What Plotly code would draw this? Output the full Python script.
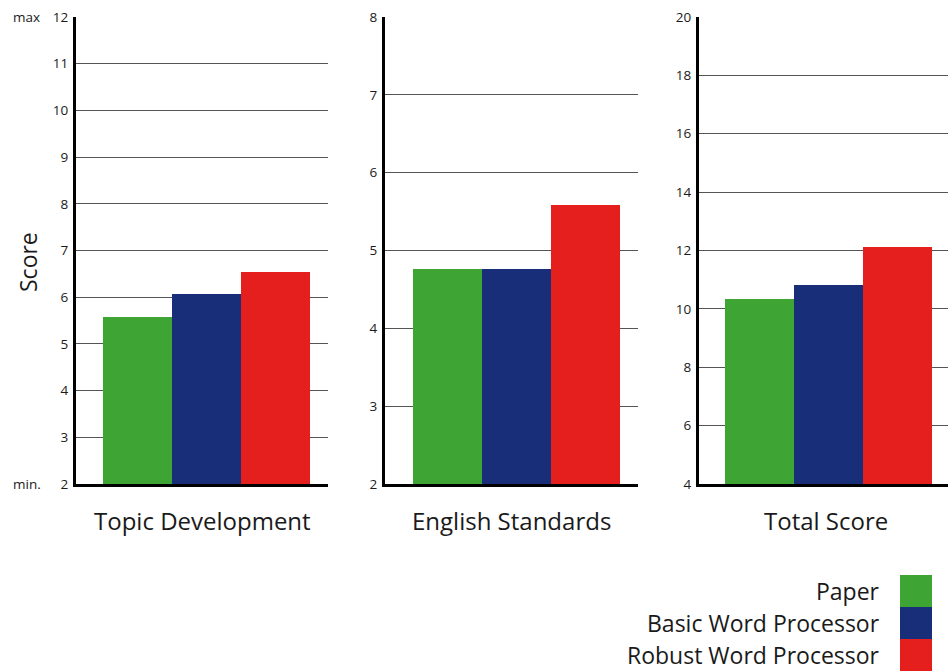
import plotly.graph_objects as go

# Mean scores by writing condition
categories = ["Topic Development", "English Standards", "Total Score"]
paper = [5.58, 4.76, 10.34]
basic_wp = [6.07, 4.76, 10.83]
robust_wp = [6.54, 5.59, 12.13]

series_names = ["Paper", "Basic Word Processor", "Robust Word Processor"]
series_values = [paper, basic_wp, robust_wp]
series_colors = ["#3ea535", "#182e78", "#e51e1e"]

# Per-panel score scales (min, max, step)
y_ranges = [(2, 12, 1), (2, 8, 1), (4, 20, 2)]

W, H = 948, 671
FONT = "Open Sans"
TEXT = "#1a1a1a"

# Horizontal extent of each panel in pixels
panel_px = [(76, 328), (385, 638), (699, 948)]
bar_left_pad = [27, 28, 26]   # gap between y axis and first bar
group_px = 207                # width of the three-bar group
y_top_px, y_bot_px = 17, 484

fig = go.Figure()

for p, cat in enumerate(categories):
    ax = "" if p == 0 else str(p + 1)
    for name, vals, col in zip(series_names, series_values, series_colors):
        fig.add_trace(go.Bar(
            x=[cat], y=[vals[p] - y_ranges[p][0]], base=y_ranges[p][0],
            name=name, marker=dict(color=col, line=dict(width=0)),
            offsetgroup=name, showlegend=False,
            xaxis="x" + ax, yaxis="y" + ax,
            hovertemplate=f"{name}<br>{cat}: %{{customdata}}<extra></extra>",
            customdata=[vals[p]],
        ))

layout = dict(
    template="none",
    width=W, height=H, margin=dict(l=0, r=0, t=0, b=0, autoexpand=False),
    paper_bgcolor="white", plot_bgcolor="white",
    barmode="group", bargap=0, bargroupgap=0,
    font=dict(family=FONT, color=TEXT),
)

ydom = [1 - y_bot_px / H, 1 - y_top_px / H]
annotations = []
for p, cat in enumerate(categories):
    ax = "" if p == 0 else str(p + 1)
    x0, x1 = panel_px[p]
    width = x1 - x0
    lo = -0.5 - bar_left_pad[p] / group_px
    hi = lo + width / group_px
    ymin, ymax, step = y_ranges[p]
    layout["xaxis" + ax] = dict(
        domain=[x0 / W, x1 / W], range=[lo, hi], type="category",
        showticklabels=False, ticks="", showgrid=False, zeroline=False,
        showline=True, linecolor="black", linewidth=3, automargin=False,
        anchor="y" + ax, fixedrange=True,
    )
    layout["yaxis" + ax] = dict(
        domain=ydom, range=[ymin, ymax], tick0=ymin, dtick=step,
        showgrid=True, gridcolor="#555555", gridwidth=1,
        showline=True, linecolor="black", linewidth=3, automargin=False,
        ticks="", ticklabelstandoff=2,
        tickfont=dict(size=13.5, family=FONT, color=TEXT),
        zeroline=False, anchor="x" + ax, fixedrange=True,
    )
    # Panel label beneath the axis
    annotations.append(dict(
        text=cat, xref=f"x{ax} domain", yref="paper",
        x=0.5 if p < 2 else 0.512, y=1 - 520 / H,
        xanchor="center", yanchor="middle", showarrow=False,
        font=dict(size=24, family=FONT, color=TEXT),
    ))

# Axis title and scale end markers
annotations.append(dict(
    text="Score", xref="paper", yref="paper", x=28 / W, y=1 - 262 / H,
    textangle=-90, showarrow=False, xanchor="center", yanchor="middle",
    font=dict(size=23, family=FONT, color=TEXT),
))
annotations.append(dict(
    text="max", xref="paper", yref="y", x=11 / W, y=y_ranges[0][1],
    xanchor="left", yanchor="middle", showarrow=False,
    font=dict(size=13.5, family=FONT, color=TEXT),
))
annotations.append(dict(
    text="min.", xref="paper", yref="y", x=11 / W, y=y_ranges[0][0],
    xanchor="left", yanchor="middle", showarrow=False,
    font=dict(size=13.5, family=FONT, color=TEXT),
))

# Legend: labels right-aligned with swatches to their right
shapes = []
row_h = 32
legend_top = 575
for i, (name, col) in enumerate(zip(series_names, series_colors)):
    top = legend_top + i * row_h
    shapes.append(dict(
        type="rect", xref="paper", yref="paper",
        x0=900 / W, x1=932 / W, y0=1 - (top + row_h) / H, y1=1 - top / H,
        fillcolor=col, line=dict(width=0),
    ))
    annotations.append(dict(
        text=name, xref="paper", yref="paper",
        x=882 / W, y=1 - (top + row_h / 2) / H,
        xanchor="right", yanchor="middle", showarrow=False,
        font=dict(size=23, family=FONT, color=TEXT),
    ))

layout["annotations"] = annotations
layout["shapes"] = shapes
fig.update_layout(**layout)

fig.write_html("out.html")
